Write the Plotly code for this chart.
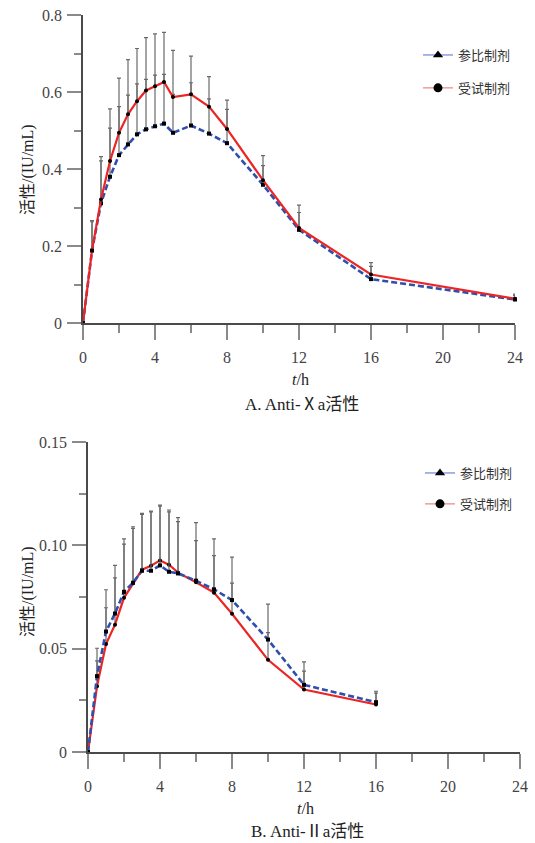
import plotly.graph_objects as go

# ---------- Data ----------
# A. Anti-Xa activity
t_a = [0, 0.5, 1, 1.5, 2, 2.5, 3, 3.5, 4, 4.5, 5, 6, 7, 8, 10, 12, 16, 24]
ref_a = [0, 0.188, 0.311, 0.380, 0.436, 0.464, 0.490, 0.503, 0.511, 0.518, 0.494,
         0.513, 0.492, 0.467, 0.359, 0.242, 0.114, 0.061]
test_a = [0, 0.188, 0.321, 0.421, 0.494, 0.542, 0.576, 0.604, 0.615, 0.626, 0.587,
          0.594, 0.562, 0.504, 0.371, 0.247, 0.126, 0.063]
ref_a_sd = [0, 0.075, 0.110, 0.126, 0.126, 0.128, 0.131, 0.130, 0.133, 0.128, 0.100,
            0.111, 0.090, 0.088, 0.050, 0.045, 0.033, 0.010]
test_a_sd = [0, 0.078, 0.111, 0.135, 0.142, 0.142, 0.137, 0.137, 0.136, 0.129, 0.121,
             0.099, 0.078, 0.075, 0.064, 0.059, 0.031, 0.012]

# B. Anti-IIa activity
t_b = [0, 0.5, 1, 1.5, 2, 2.5, 3, 3.5, 4, 4.5, 5, 6, 7, 8, 10, 12, 16]
ref_b = [0, 0.0367, 0.0583, 0.0670, 0.0775, 0.0819, 0.0877, 0.0877, 0.0903, 0.0872,
         0.0864, 0.0829, 0.0787, 0.0735, 0.0544, 0.0325, 0.0241]
test_b = [0, 0.0318, 0.0522, 0.0616, 0.0746, 0.0817, 0.0882, 0.0901, 0.0927, 0.0906,
          0.0868, 0.0821, 0.0771, 0.0669, 0.0446, 0.0302, 0.0230]
ref_b_sd = [0, 0.0074, 0.0115, 0.0173, 0.0231, 0.0263, 0.0273, 0.0285, 0.0287, 0.0290,
            0.0251, 0.0194, 0.0163, 0.0082, 0.0034, 0.0066, 0.0044]
test_b_sd = [0, 0.0184, 0.0263, 0.0287, 0.0285, 0.0273, 0.0273, 0.0265, 0.0268, 0.0265,
             0.0266, 0.0289, 0.0260, 0.0274, 0.0270, 0.0134, 0.0064]

x_ticks = [0, 4, 8, 12, 16, 20, 24]
ya_ticks = [0, 0.2, 0.4, 0.6, 0.8]
ya_labels = ["0", "0.2", "0.4", "0.6", "0.8"]
yb_ticks = [0, 0.05, 0.10, 0.15]
yb_labels = ["0", "0.05", "0.10", "0.15"]

name_ref = "参比制剂"
name_test = "受试制剂"

# ---------- Styles ----------
RED = "#ec2424"
BLUE = "#2f4fae"
ERR = "#6a6a6a"
SERIF = "Liberation Serif, Times New Roman, Noto Sans CJK SC, serif"
CJK = "Noto Sans CJK SC, sans-serif"
W, H = 535, 843


def err(sd):
    return dict(type="data", symmetric=False, array=sd, arrayminus=[0] * len(sd),
                color=ERR, thickness=1.2, width=2)


fig = go.Figure()

# top chart: blue first, red on top
fig.add_trace(go.Scatter(x=t_a, y=ref_a, mode="lines+markers", xaxis="x", yaxis="y",
                         line=dict(color=BLUE, width=2.6, dash="6px,3px"),
                         marker=dict(color="black", size=4, symbol="square"),
                         error_y=err(ref_a_sd), showlegend=False, cliponaxis=False))
fig.add_trace(go.Scatter(x=t_a, y=test_a, mode="lines+markers", xaxis="x", yaxis="y",
                         line=dict(color=RED, width=2.2),
                         marker=dict(color="black", size=4, symbol="circle"),
                         error_y=err(test_a_sd), showlegend=False, cliponaxis=False))
# bottom chart
fig.add_trace(go.Scatter(x=t_b, y=test_b, mode="lines+markers", xaxis="x2", yaxis="y2",
                         line=dict(color=RED, width=2.2),
                         marker=dict(color="black", size=4, symbol="circle"),
                         error_y=err(test_b_sd), showlegend=False, cliponaxis=False))
fig.add_trace(go.Scatter(x=t_b, y=ref_b, mode="lines+markers", xaxis="x2", yaxis="y2",
                         line=dict(color=BLUE, width=2.6, dash="6px,3px"),
                         marker=dict(color="black", size=4, symbol="square"),
                         error_y=err(ref_b_sd), showlegend=False, cliponaxis=False))

# legend entries
for lg, ax in (("legend", ("x", "y")), ("legend2", ("x2", "y2"))):
    fig.add_trace(go.Scatter(x=[None], y=[None], mode="lines+markers", name=name_ref,
                             xaxis=ax[0], yaxis=ax[1], legend=lg, legendgroup=lg + "r",
                             line=dict(color="#8e9ce0", width=1.5),
                             marker=dict(color="black", size=9, symbol="triangle-up")))
    fig.add_trace(go.Scatter(x=[None], y=[None], mode="lines+markers", name=name_test,
                             xaxis=ax[0], yaxis=ax[1], legend=lg, legendgroup=lg + "t",
                             line=dict(color="#f29a9a", width=1.5),
                             marker=dict(color="black", size=9, symbol="circle")))


def xaxis(domain, anchor):
    return dict(domain=domain, anchor=anchor, range=[0, 24], tickvals=x_ticks,
                automargin=False,
                showline=True, linecolor="#4a4a4a", linewidth=1.5, ticks="outside",
                ticklen=15, tickwidth=1.5, tickcolor="#8a8a8a", showgrid=False,
                zeroline=False, ticklabelstandoff=4,
                tickfont=dict(family=SERIF, size=16, color="#444"),
                minor=dict(tickmode="linear", tick0=0, dtick=2, ticks="outside",
                           ticklen=8, tickwidth=1.5, tickcolor="#8a8a8a", showgrid=False))


def yaxis(domain, anchor, rng, tv, tt, mdt):
    return dict(domain=domain, anchor=anchor, range=rng, tickvals=tv, ticktext=tt,
                automargin=False,
                showline=True, linecolor="#4a4a4a", linewidth=1.5, ticks="outside",
                ticklen=14, tickwidth=1.5, tickcolor="#8a8a8a", showgrid=False,
                zeroline=False, ticklabelstandoff=2,
                tickfont=dict(family=SERIF, size=16, color="#444"),
                minor=dict(tickmode="linear", tick0=0, dtick=mdt, ticks="outside",
                           ticklen=7, tickwidth=1.5, tickcolor="#8a8a8a", showgrid=False))


fig.update_layout(
    width=W, height=H,
    margin=dict(l=0, r=0, t=0, b=0, autoexpand=False),
    paper_bgcolor="white", plot_bgcolor="white",
    xaxis=xaxis([83 / W, 515 / W], "y"),
    yaxis=yaxis([1 - 323 / H, 1 - 15 / H], "x", [0, 0.8], ya_ticks, ya_labels, 0.1),
    xaxis2=xaxis([88 / W, 520 / W], "y2"),
    yaxis2=yaxis([1 - 752 / H, 1 - 442 / H], "x2", [0, 0.15], yb_ticks, yb_labels, 0.025),
    legend=dict(x=418 / W, y=1 - 40 / H, xanchor="left", yanchor="top",
                bgcolor="rgba(0,0,0,0)", tracegroupgap=13,
                font=dict(family=CJK, size=13, color="#333")),
    legend2=dict(x=420 / W, y=1 - 458 / H, xanchor="left", yanchor="top",
                 bgcolor="rgba(0,0,0,0)", tracegroupgap=11,
                 font=dict(family=CJK, size=13, color="#333")),
)

ann = [
    dict(text="活性/(IU/mL)", x=28 / W, y=1 - 170 / H, textangle=-90, size=16),
    dict(text="<i>t</i>/h", x=300 / W, y=1 - 379 / H, textangle=0, size=16),
    dict(text="A. Anti-Ⅹa活性", x=302 / W, y=1 - 404 / H, textangle=0, size=17),
    dict(text="活性/(IU/mL)", x=28 / W, y=1 - 592 / H, textangle=-90, size=16),
    dict(text="<i>t</i>/h", x=305 / W, y=1 - 808 / H, textangle=0, size=16),
    dict(text="B. Anti-Ⅱa活性", x=307 / W, y=1 - 831 / H, textangle=0, size=17),
]
for a in ann:
    fig.add_annotation(text=a["text"], x=a["x"], y=a["y"], xref="paper", yref="paper",
                       xanchor="center", yanchor="middle", textangle=a["textangle"],
                       showarrow=False,
                       font=dict(family=SERIF, size=a["size"], color="#222"))

fig.write_html(
    "out.html",
    config={"displayModeBar": False},
    post_script="document.body.style.margin='0';document.body.style.padding='0';"
                "document.body.style.overflow='hidden';",
)
